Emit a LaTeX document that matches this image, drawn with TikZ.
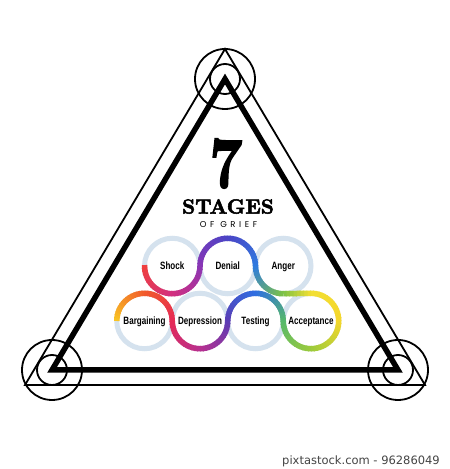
\documentclass[tikz,border=0pt]{standalone}
\usepackage{fontspec}
\usepackage{graphicx}
\usetikzlibrary{calc}
\newfontfamily\labelfont[FakeStretch=0.76]{Liberation Sans}
\newfontfamily\spacedfont[LetterSpace=42]{Poppins}
\newfontfamily\wmfont{DejaVu Sans}
\newfontfamily\heavyserif[FakeBold=2.5]{lmroman10-bold.otf}
\definecolor{ringgray}{HTML}{D5E2EE}
\definecolor{gA}{HTML}{F9C623}
\definecolor{gB}{HTML}{F15A2B}
\definecolor{gC}{HTML}{E62A55}
\definecolor{gD}{HTML}{B8308F}
\definecolor{gE}{HTML}{5B3DB5}
\definecolor{gF}{HTML}{2F6FE2}
\definecolor{gG}{HTML}{55B86B}
\definecolor{gH}{HTML}{9CCB3C}
\definecolor{gI}{HTML}{F4D62B}
\definecolor{gJ}{HTML}{F3DF33}
\definecolor{gK}{HTML}{7CC245}
\definecolor{gL}{HTML}{2E7BE0}
\definecolor{gM}{HTML}{4B44C6}
\definecolor{gN}{HTML}{8A36B5}
\definecolor{gO}{HTML}{D22F7F}
\definecolor{gP}{HTML}{F0403D}
\definecolor{wmgray}{HTML}{444444}
\newcommand\griefarc[5]{%
  \foreach \k in {1,...,16}{%
    \pgfmathsetmacro\grfA{(#2)+((#3)-(#2))*(\k-1)/16}%
    \pgfmathsetmacro\grfB{(#2)+((#3)-(#2))*(\k+0.35)/16}%
    \pgfmathsetmacro\grfP{100*(\k-0.5)/16}%
    \colorlet{segcol}{#5!\grfP!#4}%
    \draw[griefline,segcol] ($(#1.center)+(\grfA:27.75pt)$) arc[start angle=\grfA, end angle=\grfB, radius=27.75pt];
  }}
\begin{document}
\begin{tikzpicture}[x=1pt,y=1pt,
  ring/.style={circle, draw=ringgray, line width=5pt, minimum size=55.5pt, inner sep=0pt, outer sep=0pt, text height=7.6pt, text depth=0pt, font=\labelfont\bfseries\fontsize{10.6pt}{11pt}\selectfont},
  griefline/.style={line width=5.5pt, line cap=butt},
  thinline/.style={line width=1.8pt, line join=miter},
  thickline/.style={line width=5.5pt, line join=miter}]
\useasboundingbox (0,0) rectangle (450,469);
\fill[white] (0,0) rectangle (450,469);
% frame
\coordinate (tA) at (225,390);
\coordinate (tL) at (52,99);
\coordinate (tR) at (398,99);
\coordinate (oA) at (225,420);
\coordinate (oL) at (25,84);
\coordinate (oR) at (425,84);
\draw[thickline] (tA) -- (tL) -- (tR) -- cycle;
\draw[thinline] (oA) -- (oL) -- (oR) -- cycle;
\foreach \p in {tA,tL,tR}{%
  \draw[thinline] (\p) circle[radius=30pt];
  \draw[thinline] (\p) circle[radius=15pt];
}
% titles
\node[inner sep=0pt] (seven) at (226,305.5) {\scalebox{0.8}[1]{\heavyserif\fontsize{72pt}{72pt}\selectfont 7}};
\node[inner sep=0pt] (stages) at (228,262.5) {\heavyserif\fontsize{20.5pt}{21pt}\selectfont STAGES};
\node[inner sep=0pt] (ofgrief) at (228.5,244) {\spacedfont\fontsize{8.5pt}{9pt}\selectfont OF GRIEF};
% rings
\node[ring] (S) at (172.25,203) {Shock};
\node[ring] (N) at (227.75,203) {Denial};
\node[ring] (G) at (283.25,203) {Anger};
\node[ring] (B) at (144.5,148) {Bargaining};
\node[ring] (D) at (200,148) {Depression};
\node[ring] (T) at (255.5,148) {Testing};
\node[ring] (A) at (311,148) {Acceptance};
% gradient path
\griefarc{B}{180}{90}{gA}{gB}
\griefarc{B}{90}{0}{gB}{gC}
\griefarc{D}{180}{270}{gC}{gD}
\griefarc{D}{270}{360}{gD}{gE}
\griefarc{T}{180}{90}{gE}{gF}
\griefarc{T}{90}{0}{gF}{gG}
\griefarc{A}{180}{270}{gG}{gH}
\griefarc{A}{270}{360}{gH}{gI}
\griefarc{A}{360}{450}{gI}{gJ}
\coordinate (atop) at ($(A.center)+(0,27.75)$);
\coordinate (gbot) at ($(G.center)+(0,-27.75)$);
\foreach \k in {1,...,8}{%
  \pgfmathsetmacro\grfA{(\k-1)/8}%
  \pgfmathsetmacro\grfB{min(1,(\k+0.35)/8)}%
  \pgfmathsetmacro\grfP{100*(\k-0.5)/8}%
  \colorlet{segcol}{gK!\grfP!gJ}%
  \draw[griefline,segcol] ($(atop)!\grfA!(gbot)$) -- ($(atop)!\grfB!(gbot)$);
}
\griefarc{G}{270}{180}{gK}{gL}
\griefarc{N}{0}{90}{gL}{gM}
\griefarc{N}{90}{180}{gM}{gN}
\griefarc{S}{0}{-90}{gN}{gO}
\griefarc{S}{-90}{-180}{gO}{gP}
% watermark text
\node[anchor=east, inner sep=0pt, text=wmgray] (wm) at (440,8) {\wmfont\fontsize{11.5pt}{12pt}\selectfont pixtastock.com - 96286049};
\end{tikzpicture}
\end{document}
